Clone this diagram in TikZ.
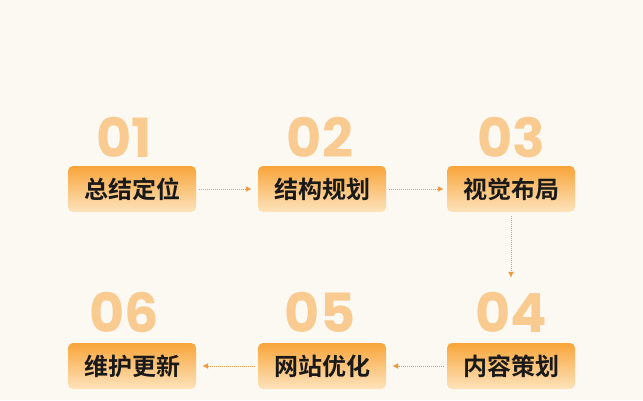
\documentclass[tikz,border=0pt]{standalone}
\usetikzlibrary{arrows.meta}
\usepackage{fontspec}
\newfontfamily\cjk{Noto Sans CJK SC}[BoldFont={* Bold}]
\setmainfont{Poppins}
\definecolor{bg}{HTML}{FCF9F2}
\definecolor{ortop}{HTML}{F9A53A}
\definecolor{orbot}{HTML}{FDE3BC}
\definecolor{numc}{HTML}{F9CB91}
\definecolor{arr}{HTML}{EE9A45}
\begin{document}
\begin{tikzpicture}[x=1pt,y=-1pt,
  stepbox/.style={rounded corners=5pt,minimum width=128pt,minimum height=46pt,top color=ortop,bottom color=orbot,inner sep=0pt,font=\cjk\bfseries\fontsize{24}{24}\selectfont,text=black!90},
  numtxt/.style={font=\bfseries\fontsize{54}{54}\selectfont,text=numc},
  conn/.style={draw=arr,densely dotted,line width=1pt,-{Latex[length=6pt,width=6pt]}}]
\useasboundingbox[fill=bg] (0,0) rectangle (643,400);
\node[numtxt] (n1) at (124,137) {01};
\node[numtxt] (n2) at (320,137) {02};
\node[numtxt] (n3) at (511,137) {03};
\node[numtxt] (n6) at (124,312) {06};
\node[numtxt] (n5) at (320,312) {05};
\node[numtxt] (n4) at (511,312) {04};
\node[stepbox] (b1) at (132,189) {总结定位};
\node[stepbox] (b2) at (322,189) {结构规划};
\node[stepbox] (b3) at (511,189) {视觉布局};
\node[stepbox] (b6) at (132,366) {维护更新};
\node[stepbox] (b5) at (322,366) {网站优化};
\node[stepbox] (b4) at (511,366) {内容策划};
\draw[conn] ([xshift=3pt]b1.east) -- ([xshift=-6pt]b2.west);
\draw[conn] ([xshift=3pt]b2.east) -- ([xshift=-3pt]b3.west);
\draw[conn] ([yshift=-4pt]b3.south) -- ([yshift=65pt]b4.north);
\draw[conn] ([xshift=-3pt]b4.west) -- ([xshift=6pt]b5.east);
\draw[conn] ([xshift=-3pt]b5.west) -- ([xshift=6pt]b6.east);
\end{tikzpicture}
\end{document}
